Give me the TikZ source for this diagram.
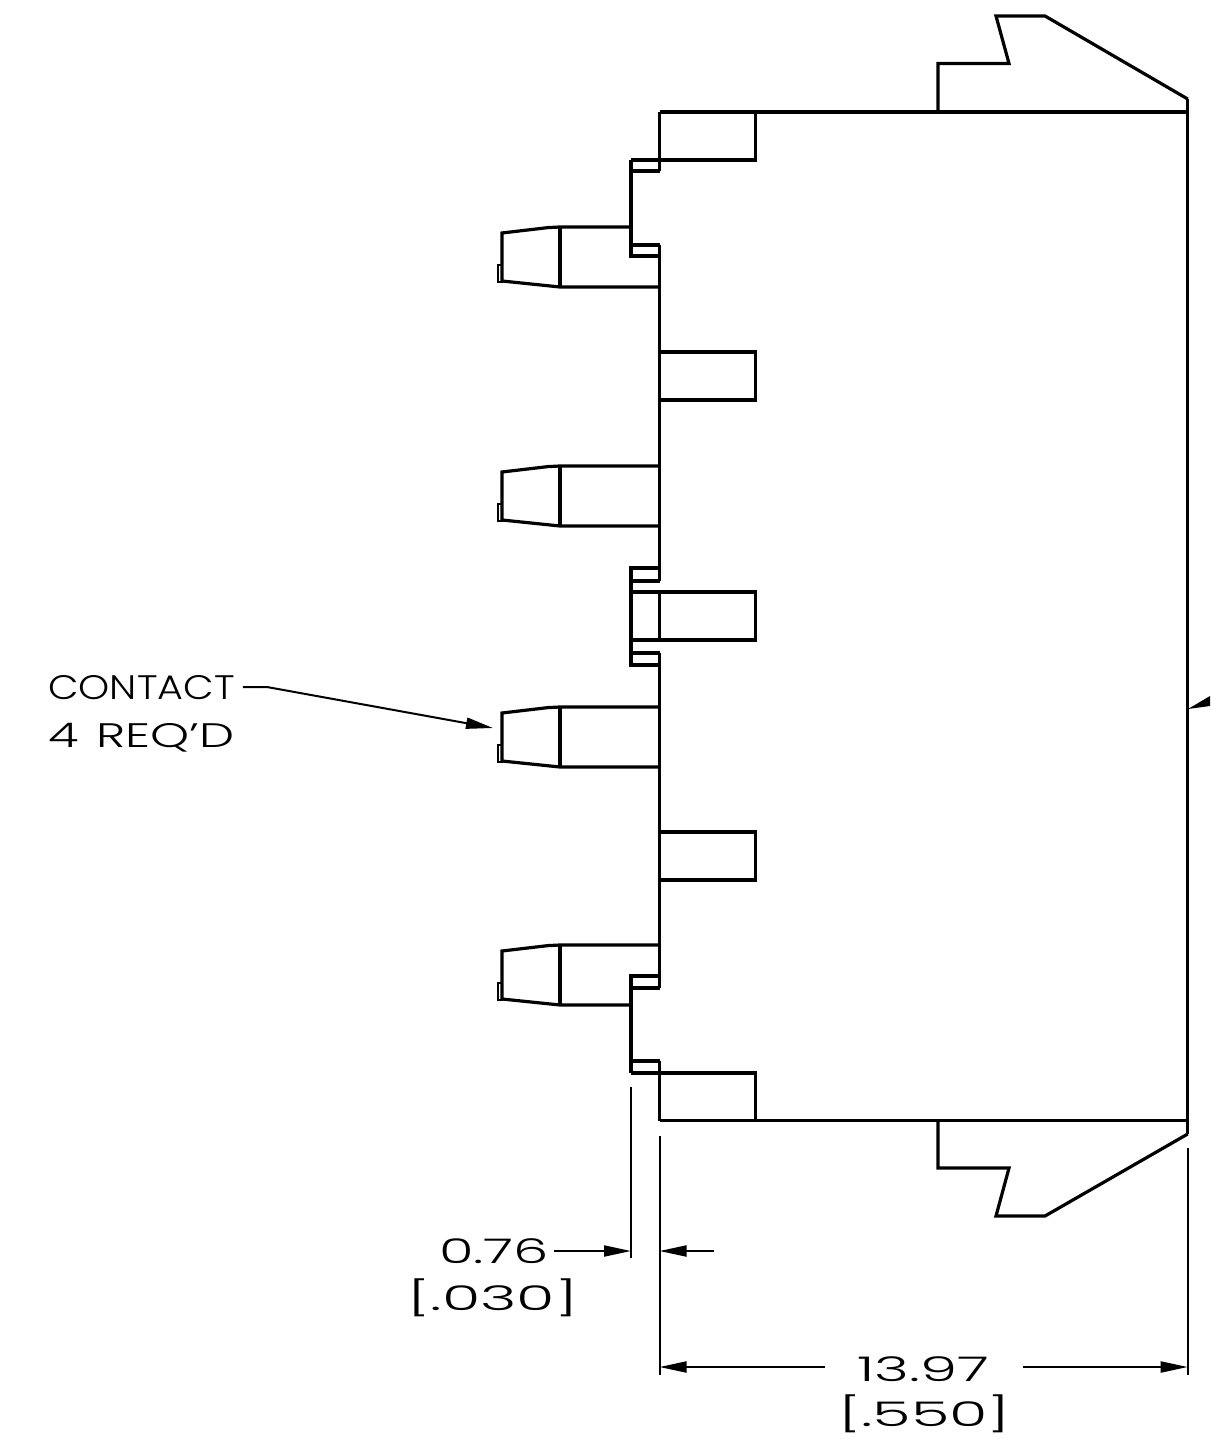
\documentclass[tikz,border=0pt]{standalone}
\usepackage{fontspec}
\setmainfont{Poppins Light}
\usetikzlibrary{arrows.meta}
\tikzset{
  outline/.style={line width=3.2pt, line join=miter},
  dimline/.style={line width=2pt},
  dimarrow/.style={dimline, -{Triangle[length=27pt, width=11pt]}},
  cadtext/.style={inner sep=0pt, font=\fontsize{34}{40}\selectfont, transform shape},
  wordtext/.style={cadtext, xscale=1.165},
  reqtext/.style={cadtext, xscale=1.46},
  numtext/.style={cadtext, xscale=1.65},
  inchtext/.style={cadtext, xscale=1.83}
}
\newcommand{\drawcontact}[3]{
  % #1 is the top of the contact, #2 and #3 the x where its edges end
  \begin{scope}[shift={(0, #1)}]
    \draw[outline] (#2, 0) -- (560, 0) -- (548, 0.6) -- (502, 6) -- (502, 54) -- (560, 60) -- (#3, 60);
    \draw[outline] (560, 0) -- (560, 60);
    \draw[line width=2pt] (498, 38) rectangle (502, 55);
  \end{scope}
}

\begin{document}
\begin{tikzpicture}[x=1pt, y=-1pt]

  \useasboundingbox (0, 0) rectangle (1210, 1439);

  % housing
  \draw[outline] (659.5, 112) -- (1187.7, 112);
  \draw[outline] (659.5, 1120.5) -- (1187.7, 1120.5);
  \draw[outline] (1187.7, 99) -- (1187.7, 1134);

  % latches
  \draw[outline] (938, 112) -- (938, 63.5) -- (1009, 63.5) -- (996, 16) -- (1045, 16) -- (1187.7, 99);
  \draw[outline] (938, 1120.5) -- (938, 1168) -- (1009, 1168) -- (996, 1216) -- (1045, 1216) -- (1187.7, 1134);

  % left wall, broken at the notches
  \foreach \ya/\yb in {112/171, 245/581, 592/640, 653/988, 1061/1081, 1073/1120.5} {
    \draw[outline] (659.5, \ya) -- (659.5, \yb);
  }

  % pockets
  \foreach \ya/\yb in {352/400, 832/880} {
    \draw[outline] (659.5, \ya) -- (755.7, \ya) -- (755.7, \yb) -- (659.5, \yb);
  }
  \draw[outline] (631, 592) -- (755.7, 592) -- (755.7, 640) -- (631, 640);
  \draw[outline] (659.5, 112) -- (755.7, 112) -- (755.7, 160) -- (631, 160);
  \draw[outline] (631, 1073) -- (755.7, 1073) -- (755.7, 1120.5);

  % steps
  \draw[outline] (659.5, 171) -- (631, 171);
  \draw[outline] (631, 160) -- (631, 256) -- (659.5, 256);
  \draw[outline] (659.5, 245) -- (631, 245);
  \draw[outline] (659.5, 581) -- (631, 581);
  \draw[outline] (659.5, 568) -- (631, 568) -- (631, 665) -- (659.5, 665);
  \draw[outline] (659.5, 653) -- (631, 653);
  \draw[outline] (659.5, 976) -- (631, 976) -- (631, 1073);
  \draw[outline] (631, 988) -- (659.5, 988);
  \draw[outline] (659.5, 1061) -- (631, 1061);

  % contacts
  \drawcontact{227}{631}{659.5}
  \drawcontact{466}{659.5}{659.5}
  \drawcontact{707}{659.5}{659.5}
  \drawcontact{945}{659.5}{631}

  % leader coming in from the right
  \fill (1188, 709) -- (1210, 696) -- (1210, 706) -- cycle;

  % extension lines
  \draw[dimline] (631, 1087) -- (631, 1258);
  \draw[dimline] (659.5, 1136) -- (659.5, 1375);
  \draw[dimline] (1187.7, 1148) -- (1187.7, 1375);

  % labels
  \node[wordtext, anchor=base west] (contactlabel) at (48, 699) {CONTACT};
  \node[reqtext, anchor=base west] (reqlabel) at (48, 747) {4\hskip 12pt REQ'D};
  \node[numtext, anchor=base] (gapvalue) at (494, 1263) {0.76};
  \node[inchtext, anchor=base] (gapinch) at (493, 1310) {[.030]};
  \node[numtext, xscale=1.06, anchor=base] (depthvalue) at (923, 1381) {13.97};
  \node[inchtext, anchor=base] (depthinch) at (924.5, 1426) {[.550]};

  % leaders and dimension arrows
  \coordinate (contacttip) at (493, 728);
  \coordinate (gapleft) at (631, 1251);
  \coordinate (gapright) at (659.5, 1251);
  \coordinate (gapend) at (714, 1251);
  \coordinate (depthleft) at (659.5, 1367);
  \coordinate (depthright) at (1187.7, 1367);

  \draw[dimarrow] (contactlabel.base east) ++(8, -12) -- ++(24, 0) -- (contacttip);
  \draw[dimarrow] (gapvalue.base east) ++(5, -12) -- (gapleft);
  \draw[dimarrow] (gapend) -- (gapright);
  \draw[dimarrow] (depthvalue.base west) ++(-32, -14) -- (depthleft);
  \draw[dimarrow] (depthvalue.base east) ++(34, -14) -- (depthright);

\end{tikzpicture}
\end{document}
